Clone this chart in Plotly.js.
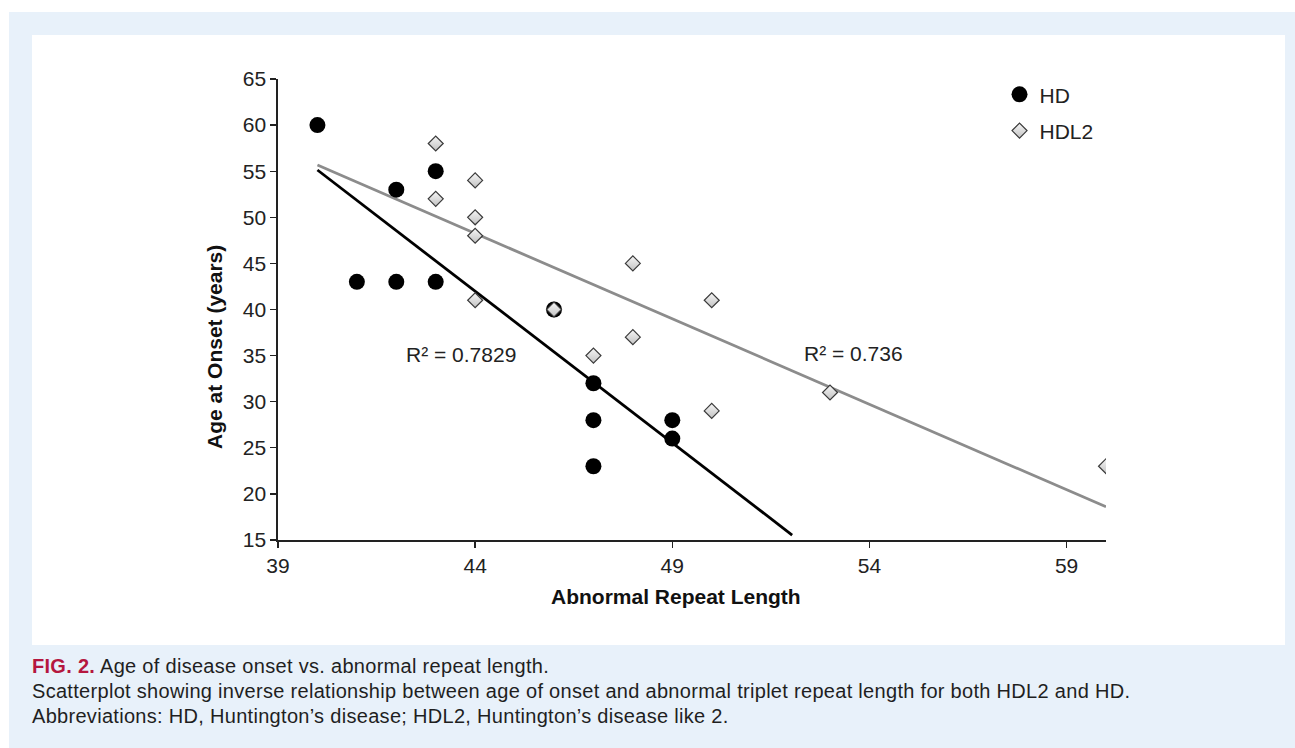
<!DOCTYPE html>
<html>
<head>
<meta charset="utf-8">
<script src="https://cdn.plot.ly/plotly-3.0.1.min.js"></script>
<style>
  html, body { margin:0; padding:0; background:#ffffff; }
  #page { position:relative; width:1295px; height:748px; overflow:hidden; background:#ffffff; }
  #blue { position:absolute; left:9px; top:12px; width:1286px; height:736px; background:#e8f1fa; }
  #panel { position:absolute; left:32px; top:35px; width:1253px; height:610px; background:#ffffff; }
  #chart { position:absolute; left:0; top:0; width:1295px; height:748px; }
  #caption { position:absolute; left:32px; top:654px; width:1255px; font-family:"Liberation Sans", Arial, sans-serif; font-size:20px; letter-spacing:0.3px; line-height:25px; color:#1f1f1f; white-space:nowrap; }
  #caption .fig { color:#b5173f; font-weight:bold; }
</style>
</head>
<body>
<div id="page">
  <div id="blue"></div>
  <div id="panel"></div>
  <div id="chart"></div>
  <div id="caption">
    <div><span class="fig">FIG. 2.</span> Age of disease onset vs. abnormal repeat length.</div>
    <div>Scatterplot showing inverse relationship between age of onset and abnormal triplet repeat length for both HDL2 and HD.</div>
    <div>Abbreviations: HD, Huntington’s disease; HDL2, Huntington’s disease like 2.</div>
  </div>
</div>
<script>
// HD data (black circles)
const hdRepeat = [40, 41, 42, 42, 43, 43, 46, 47, 47, 47, 49, 49];
const hdOnset  = [60, 43, 53, 43, 55, 43, 40, 32, 28, 23, 28, 26];
// HDL2 data (grey diamonds)
const hdl2Repeat = [43, 43, 44, 44, 44, 44, 46, 47, 48, 48, 50, 50, 53, 60];
const hdl2Onset  = [58, 52, 54, 50, 48, 41, 40, 35, 45, 37, 41, 29, 31, 23];
// Linear trendlines (end points)
const hdTrendX = [40, 52.04];
const hdTrendY = [55.13, 15.54];
const hdl2TrendX = [40, 60];
const hdl2TrendY = [55.67, 18.6];
// R² labels
const hdR2 = "R² = 0.7829";
const hdl2R2 = "R² = 0.736";
const xTicks = [39, 44, 49, 54, 59];
const yTicks = [15, 20, 25, 30, 35, 40, 45, 50, 55, 60, 65];
const xTitle = "Abnormal Repeat Length";
const yTitle = "Age at Onset (years)";

const FONT = '"Liberation Sans", Arial, sans-serif';

const traces = [
  { x: hdl2TrendX, y: hdl2TrendY, mode: "lines", line: {color: "#8c8c8c", width: 2.8}, showlegend: false, hoverinfo: "skip" },
  { x: hdTrendX, y: hdTrendY, mode: "lines", line: {color: "#000000", width: 2.8}, showlegend: false, hoverinfo: "skip" },
  { x: hdRepeat, y: hdOnset, name: "HD", mode: "markers", legendgroup: "a",
    marker: {symbol: "circle", size: 16, color: "#000000", line: {width: 0}} },
  { x: hdl2Repeat, y: hdl2Onset, name: "HDL2", mode: "markers", legendgroup: "b",
    marker: {symbol: "diamond", size: 11.5, color: "#f6f6f6",
             gradient: {type: "vertical", color: "#c2c2c2"},
             line: {color: "#3a3a3a", width: 1.2}} }
];

const layout = {
  width: 1295, height: 748,
  margin: {l: 278, r: 189, t: 79, b: 208, pad: 0},
  paper_bgcolor: "rgba(0,0,0,0)",
  plot_bgcolor: "rgba(0,0,0,0)",
  font: {family: FONT, size: 21, color: "#222222"},
  showlegend: true,
  legend: {x: 0.8714, y: 1.0105, xanchor: "left", yanchor: "top",
           bgcolor: "rgba(0,0,0,0)", font: {family: FONT, size: 21, color: "#222"},
           traceorder: "grouped", tracegroupgap: 6},
  xaxis: {
    range: [39, 60], tickmode: "array", tickvals: xTicks, ticktext: xTicks.map(String),
    showgrid: false, zeroline: false, showline: true, linecolor: "#222", linewidth: 1.6,
    ticks: "outside", ticklen: 6, tickwidth: 1.3, tickcolor: "#222",
    tickfont: {family: FONT, size: 21, color: "#222"},
    fixedrange: true
  },
  yaxis: {
    range: [15, 65], tickmode: "array", tickvals: yTicks, ticktext: yTicks.map(String),
    showgrid: false, zeroline: false, showline: true, linecolor: "#222", linewidth: 1.6,
    ticks: "outside", ticklen: 6, tickwidth: 1.3, tickcolor: "#222",
    tickfont: {family: FONT, size: 21, color: "#222"},
    fixedrange: true
  },
  annotations: [
    {x: 43.63, y: 35.07, xref: "x", yref: "y", text: hdR2, showarrow: false,
     font: {family: FONT, size: 21, color: "#222"}},
    {x: 53.6, y: 35.28, xref: "x", yref: "y", text: hdl2R2, showarrow: false,
     font: {family: FONT, size: 21, color: "#222"}},
    {x: 0.4807, y: -0.1215, xref: "paper", yref: "paper", xanchor: "center", yanchor: "middle",
     text: "<b>" + xTitle + "</b>", showarrow: false, font: {family: FONT, size: 21, color: "#111"}},
    {x: -0.0761, y: 0.4187, xref: "paper", yref: "paper", xanchor: "center", yanchor: "middle",
     textangle: -90, text: "<b>" + yTitle + "</b>", showarrow: false, font: {family: FONT, size: 21, color: "#111"}}
  ]
};

Plotly.newPlot("chart", traces, layout, {displayModeBar: false, staticPlot: true});
</script>
</body>
</html>
